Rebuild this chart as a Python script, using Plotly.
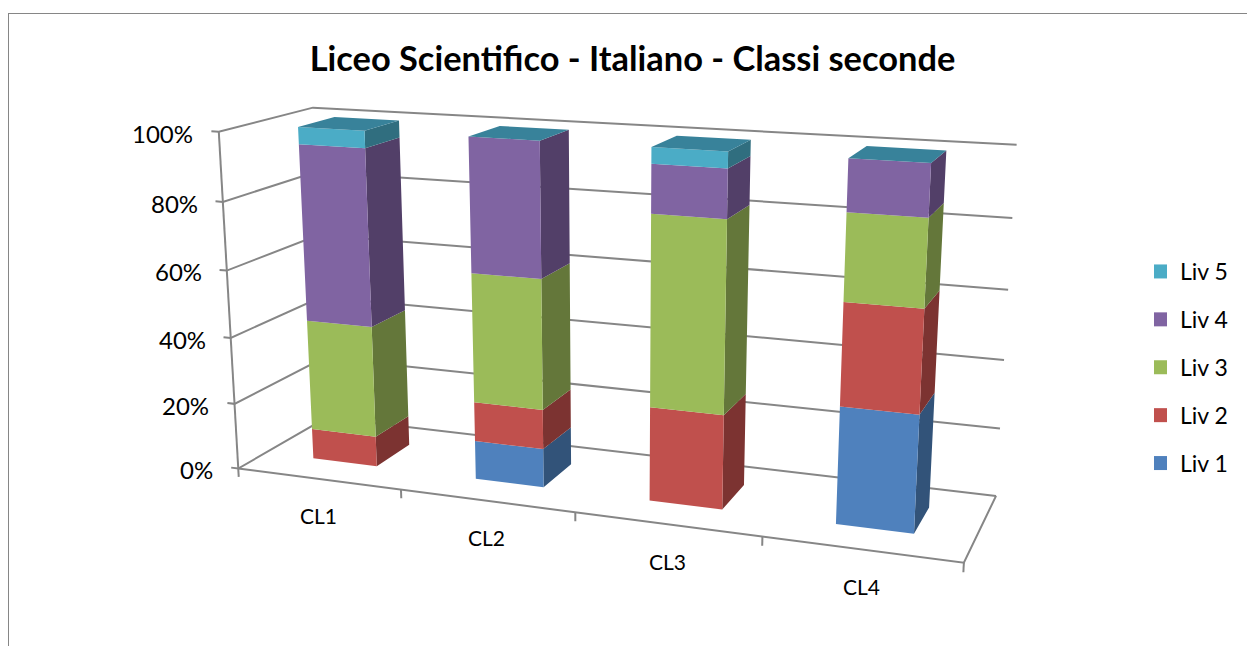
import numpy as np
import plotly.graph_objects as go

categories = ["CL1", "CL2", "CL3", "CL4"]
liv1 = [0, 11.5, 0, 33.3]
liv2 = [9.2, 11.7, 27.4, 28.7]
liv3 = [33.5, 38.1, 54.5, 23.9]
liv4 = [52.3, 38.7, 13.6, 14.1]
liv5 = [5, 0, 4.5, 0]
levels = ["Liv 1", "Liv 2", "Liv 3", "Liv 4", "Liv 5"]
series = [liv1, liv2, liv3, liv4, liv5]
pct_ticks = [0, 20, 40, 60, 80, 100]

front_cols = ["#4F81BD", "#C0504D", "#9BBB59", "#8064A2", "#4BACC6"]
side_cols = ["#325379", "#7C3331", "#64773A", "#523F68", "#306E7F"]
top_col = "#38829A"
GRID = "#868686"
FONT = "Lato"

# camera of the 3-D chart
EYE = np.array([1.30716, -2.04787, 0.82063])
AZ, EL = -0.35187, -0.26642
SY, SZ = 0.24947, 0.46713
BAR_A, BAR_W, BAR_Y0, BAR_Y1 = 0.30195, 0.39833, 0.30005, 0.70269
FP, CX, CY = 1813.10, 615.51, 347.72
F = np.array([np.sin(AZ) * np.cos(EL), np.cos(AZ) * np.cos(EL), np.sin(EL)])
R = np.cross(F, [0, 0, 1.0]); R /= np.linalg.norm(R)
V = np.cross(R, F)


def proj(x, y, z):
    d = np.array([x * 0.25, y * SY, z * SZ / 100]) - EYE
    dd = F @ d
    return CX + FP * (R @ d) / dd, CY - FP * (V @ d) / dd


def poly(points):
    xy = [proj(*p) for p in points]
    xy.append(xy[0])
    return [p[0] for p in xy] + [None], [p[1] for p in xy] + [None]


def path(points):
    xy = [proj(*p) for p in points]
    return [p[0] for p in xy] + [None], [p[1] for p in xy] + [None]


fig = go.Figure()

# walls, floor, ticks
gx, gy = [], []
segs = []
for t in pct_ticks:
    segs.append([(-0.045, 0, t), (0, 0, t), (0, 1, t), (4, 1, t)])
segs.append([(0, 0, 0), (0, 0, 100)])
segs.append([(0, 0, 0), (4, 0, 0), (4, 1, 0)])
for k in range(5):
    segs.append([(k, 0, 0), (k, 0, -2.6)])
for s in segs:
    a, b = path(s)
    gx += a
    gy += b
fig.add_trace(go.Scatter(x=gx, y=gy, mode="lines", line=dict(color=GRID, width=2),
                         showlegend=False, hoverinfo="skip"))


def add_poly(px, py, col):
    fig.add_trace(go.Scatter(x=px, y=py, mode="lines", fill="toself", fillcolor=col,
                             line=dict(width=0, color=col), showlegend=False,
                             hoverinfo="skip"))


# bars
for li, vals in enumerate(series):
    fx, fy, sx, sy_ = [], [], [], []
    for c, v in enumerate(vals):
        if v <= 0:
            continue
        base = sum(series[j][c] for j in range(li))
        x0, x1 = c + BAR_A, c + BAR_A + BAR_W
        a, b = poly([(x0, BAR_Y0, base), (x1, BAR_Y0, base), (x1, BAR_Y0, base + v), (x0, BAR_Y0, base + v)])
        fx += a; fy += b
        a, b = poly([(x1, BAR_Y0, base), (x1, BAR_Y1, base), (x1, BAR_Y1, base + v), (x1, BAR_Y0, base + v)])
        sx += a; sy_ += b
    add_poly(sx, sy_, side_cols[li])
    add_poly(fx, fy, front_cols[li])

tx, ty = [], []
for c in range(len(categories)):
    x0, x1 = c + BAR_A, c + BAR_A + BAR_W
    a, b = poly([(x0, BAR_Y0, 100), (x1, BAR_Y0, 100), (x1, BAR_Y1, 100), (x0, BAR_Y1, 100)])
    tx += a; ty += b
add_poly(tx, ty, top_col)

# legend entries, top to bottom
for name, col in reversed(list(zip(levels, front_cols))):
    fig.add_trace(go.Scatter(x=[None], y=[None], mode="markers", name=name, legendgroup=name,
                             marker=dict(symbol="square", size=14, color=col)))

annotations = []
for t in pct_ticks:
    px, py = proj(-0.045, 0, t)
    annotations.append(dict(x=px - 16, y=py + 2, text=f"{t}%", showarrow=False, xanchor="right",
                            yanchor="middle", font=dict(family=FONT, size=24, color="#000000")))
for c, name in enumerate(categories):
    px, py = proj(c + 0.5, 0, 0)
    annotations.append(dict(x=px, y=py + 37, text=name, showarrow=False, xanchor="center",
                            yanchor="middle", font=dict(family=FONT, size=21, color="#000000")))

fig.update_layout(
    width=1247, height=646,
    margin=dict(l=0, r=0, t=0, b=0),
    paper_bgcolor="white", plot_bgcolor="white",
    xaxis=dict(range=[0, 1247], visible=False, fixedrange=True),
    yaxis=dict(range=[646, 0], visible=False, fixedrange=True),
    title=dict(text="<b>Liceo Scientifico - Italiano - Classi seconde</b>", x=632.5 / 1247, y=1 - 59 / 646,
               xanchor="center", yanchor="middle", font=dict(family=FONT, size=34.4, color="#000000")),
    legend=dict(x=1154 / 1247, y=1 - 250 / 646, xanchor="left", yanchor="top", traceorder="grouped",
                tracegroupgap=15, indentation=-14, font=dict(family=FONT, size=23, color="#000000"),
                bgcolor="rgba(0,0,0,0)"),
    annotations=annotations,
    shapes=[
        dict(type="line", xref="paper", yref="paper", x0=8 / 1247, x1=1, y0=1 - 13.5 / 646, y1=1 - 13.5 / 646,
             line=dict(color=GRID, width=1)),
        dict(type="line", xref="paper", yref="paper", x0=8.5 / 1247, x1=8.5 / 1247, y0=0, y1=1 - 13 / 646,
             line=dict(color=GRID, width=1)),
    ],
)
fig.write_html("out.html", config=dict(displayModeBar=False),
               post_script="document.body.style.margin='0';")
